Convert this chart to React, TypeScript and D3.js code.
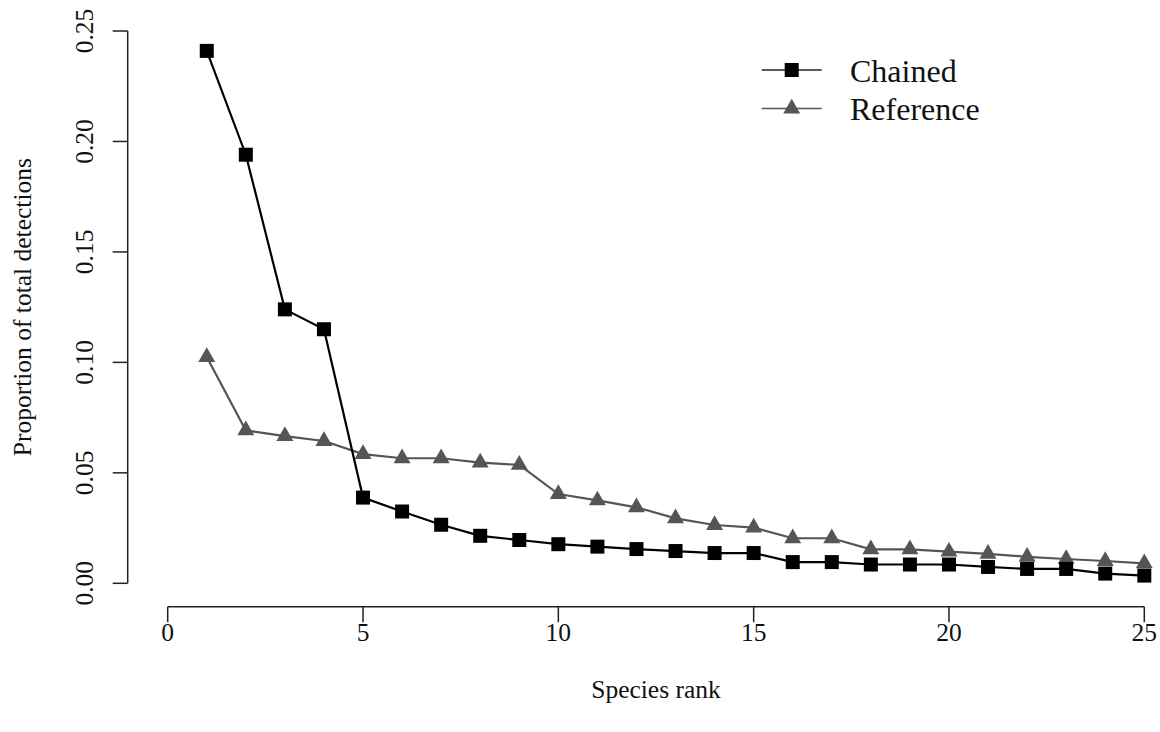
import React from "react";
import * as d3 from "d3";

const ranks = Array.from({ length: 25 }, (_, i) => i + 1);
const chained = [
  0.241, 0.194, 0.124, 0.115, 0.0388, 0.0325, 0.0265, 0.0215, 0.0196, 0.0177,
  0.0166, 0.0155, 0.0146, 0.0137, 0.0137, 0.0096, 0.0096, 0.0085, 0.0085, 0.0085,
  0.0074, 0.0065, 0.0065, 0.0044, 0.0035,
];
const reference = [
  0.1024, 0.0692, 0.0666, 0.0644, 0.0585, 0.0566, 0.0566, 0.0546, 0.0536, 0.0404,
  0.0375, 0.0344, 0.0294, 0.0264, 0.0252, 0.0204, 0.0204, 0.0154, 0.0154, 0.0143,
  0.0133, 0.0120, 0.0110, 0.0101, 0.0090,
];
const xTicks = [0, 5, 10, 15, 20, 25];
const yTicks = [0, 0.05, 0.1, 0.15, 0.2, 0.25];
const seriesNames = ["Chained", "Reference"];

const W = 1160;
const H = 732;
const FONT = "'Liberation Serif', 'Times New Roman', serif";

export default function App() {
  const x = d3.scaleLinear().domain([0, 25]).range([167.7, 1144.3]);
  const y = d3.scaleLinear().domain([0, 0.25]).range([583.3, 31]);
  const axisY = 606.7;
  const axisX = 127.7;

  const line = d3
    .line<number>()
    .x((_, i) => x(ranks[i]))
    .y((d) => y(d));

  const tri = d3.symbol(d3.symbolTriangle, 125)() as string;
  const sq = 14;

  const legendX0 = 761.7;
  const legendX1 = 821.7;
  const legendMid = (legendX0 + legendX1) / 2;
  const legendRows = [70, 108.5];

  return (
    <svg
      width={W}
      height={H}
      style={{ position: "absolute", left: 0, top: 0, background: "#fff" }}
      fontFamily={FONT}
    >
      <rect x={0} y={0} width={W} height={H} fill="#fff" />
      {/* x axis */}
      <line x1={x(0)} x2={x(25)} y1={axisY} y2={axisY} stroke="#222" strokeWidth={1.5} />
      {xTicks.map((t) => (
        <g key={"xt" + t}>
          <line x1={x(t)} x2={x(t)} y1={axisY} y2={axisY + 15.5} stroke="#222" strokeWidth={1.5} />
          <text x={x(t)} y={641} textAnchor="middle" fontSize={25.5} fill="#111">
            {t}
          </text>
        </g>
      ))}
      {/* y axis */}
      <line x1={axisX} x2={axisX} y1={y(0)} y2={y(0.25)} stroke="#222" strokeWidth={1.5} />
      {yTicks.map((t) => (
        <g key={"yt" + t}>
          <line x1={axisX - 15} x2={axisX} y1={y(t)} y2={y(t)} stroke="#222" strokeWidth={1.5} />
          <text
            transform={`translate(93.3,${y(t)}) rotate(-90)`}
            textAnchor="middle"
            fontSize={25.5}
            fill="#111"
          >
            {t.toFixed(2)}
          </text>
        </g>
      ))}
      {/* axis titles */}
      <text x={(x(0) + x(25)) / 2} y={698} textAnchor="middle" fontSize={25.5} fill="#111">
        Species rank
      </text>
      <text
        transform={`translate(31,${(y(0) + y(0.25)) / 2}) rotate(-90)`}
        textAnchor="middle"
        fontSize={25.5}
        fill="#111"
      >
        Proportion of total detections
      </text>

      {/* Reference series */}
      <path d={line(reference) as string} fill="none" stroke="#555" strokeWidth={2.2} />
      {reference.map((v, i) => (
        <path key={"r" + i} d={tri} transform={`translate(${x(ranks[i])},${y(v)})`} fill="#555" />
      ))}

      {/* Chained series */}
      <path d={line(chained) as string} fill="none" stroke="#000" strokeWidth={2.2} />
      {chained.map((v, i) => (
        <rect
          key={"c" + i}
          x={x(ranks[i]) - sq / 2}
          y={y(v) - sq / 2}
          width={sq}
          height={sq}
          fill="#000"
        />
      ))}

      {/* legend */}
      <line x1={legendX0} x2={legendX1} y1={legendRows[0]} y2={legendRows[0]} stroke="#222" strokeWidth={1.3} />
      <rect x={legendMid - sq / 2} y={legendRows[0] - sq / 2} width={sq} height={sq} fill="#000" />
      <text x={850} y={82} fontSize={32} fill="#111">
        {seriesNames[0]}
      </text>
      <line x1={legendX0} x2={legendX1} y1={legendRows[1]} y2={legendRows[1]} stroke="#555" strokeWidth={1.3} />
      <path d={tri} transform={`translate(${legendMid},${legendRows[1]})`} fill="#555" />
      <text x={850} y={120} fontSize={32} fill="#111">
        {seriesNames[1]}
      </text>
    </svg>
  );
}
